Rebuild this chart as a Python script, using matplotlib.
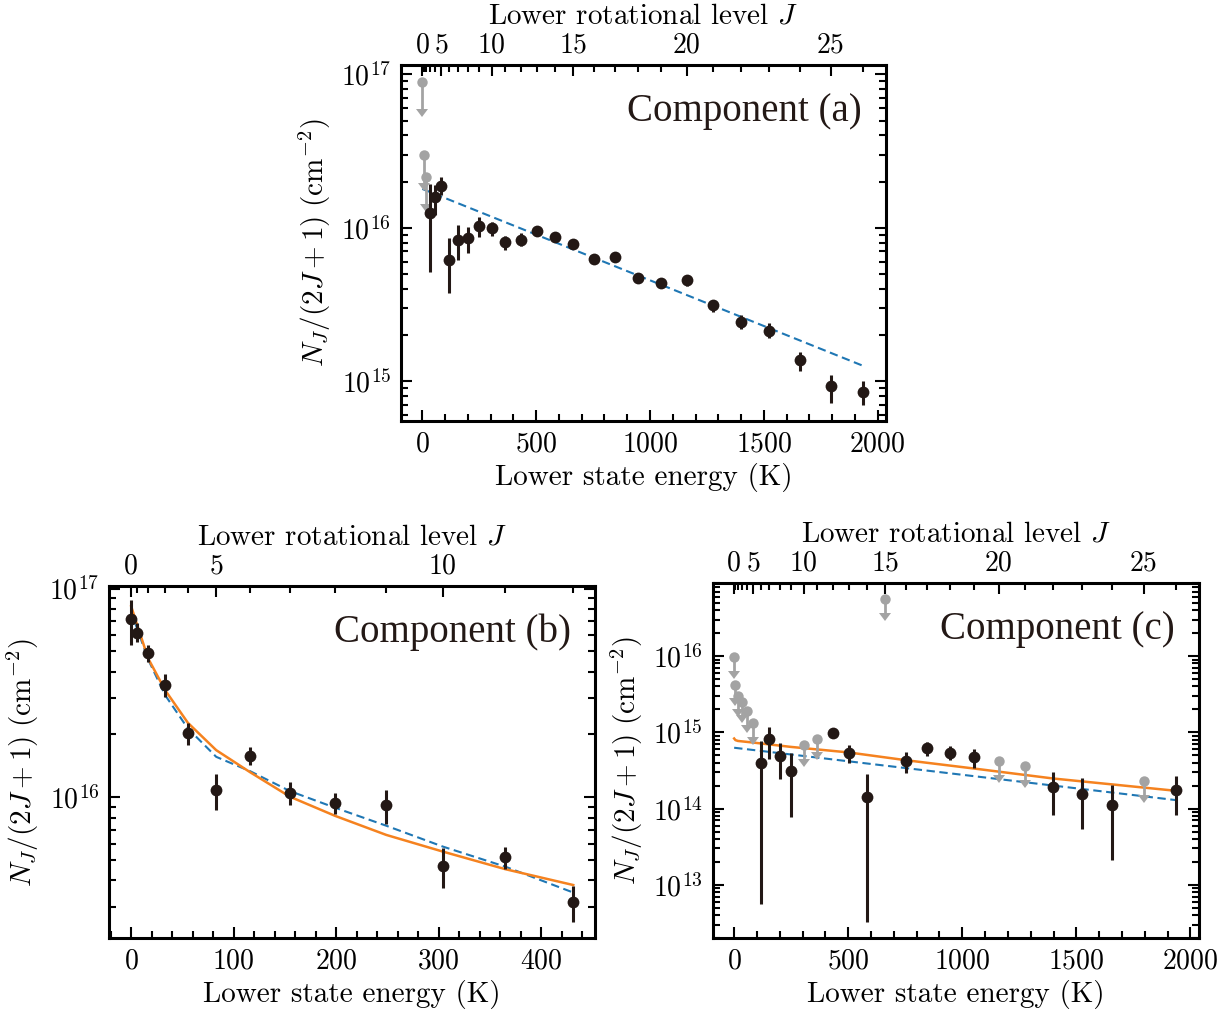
import numpy as np
import matplotlib
matplotlib.use('Agg')
import matplotlib.pyplot as plt
from matplotlib.ticker import MultipleLocator, FixedLocator, NullFormatter, LogLocator

plt.rcParams['font.family'] = 'serif'
plt.rcParams['font.serif'] = ['cmr10', 'DejaVu Serif']
plt.rcParams['mathtext.fontset'] = 'cm'
plt.rcParams['axes.formatter.use_mathtext'] = True
plt.rcParams['axes.unicode_minus'] = False

# lower state energy (K) of CO level J = 0..26
energy_K = [0.0, 5.53, 16.60, 33.19, 55.32, 82.97, 116.16, 154.87, 199.11, 248.88,
            304.16, 364.97, 431.29, 503.13, 580.49, 663.35, 751.72, 845.59, 944.97,
            1049.84, 1160.20, 1276.05, 1397.38, 1524.19, 1656.47, 1794.23, 1937.44]

# ---- component (a), values as log10 N_J/(2J+1)
J_a_lim = [0, 1, 2]
logN_a_lim = [16.952, 16.474, 16.333]
J_a = list(range(3, 27))
logN_a = [16.094, 16.198, 16.274, 15.789, 15.920, 15.931, 16.013, 16.000, 15.905, 15.920,
          15.977, 15.941, 15.896, 15.794, 15.807, 15.674, 15.637, 15.657, 15.494, 15.387,
          15.326, 15.135, 14.967, 14.930]
lo_a = [15.711, 16.083, 16.213, 15.572, 15.789, 15.837, 15.941, 15.948, 15.855, 15.881,
        15.952, 15.916, 15.871, 15.769, 15.782, 15.649, 15.612, 15.620, 15.452, 15.337,
        15.279, 15.067, 14.856, 14.843]
hi_a = [16.285, 16.279, 16.333, 15.931, 16.018, 16.003, 16.072, 16.039, 15.948, 15.963,
        16.002, 15.966, 15.921, 15.819, 15.832, 15.699, 15.662, 15.685, 15.517, 15.430,
        15.376, 15.191, 15.039, 15.002]
fit_a_J = [0, 26]
fit_a_blue = [16.253, 15.098]

# ---- component (b)
J_b = list(range(0, 13))
logN_b = [16.853, 16.789, 16.692, 16.539, 16.309, 16.035, 16.199, 16.022, 15.973, 15.963,
          15.673, 15.713, 15.499]
lo_b = [16.729, 16.745, 16.649, 16.481, 16.250, 15.939, 16.155, 15.963, 15.919, 15.871,
        15.565, 15.656, 15.405]
hi_b = [16.947, 16.833, 16.729, 16.590, 16.357, 16.110, 16.242, 16.072, 16.019, 16.035,
        15.756, 15.764, 15.576]
fit_b_orange = [16.915, 16.831, 16.665, 16.513, 16.357, 16.226, 16.120, 16.003, 15.911,
                15.820, 15.740, 15.656, 15.580]
fit_b_blue = [16.890, 16.812, 16.660, 16.489, 16.330, 16.194, 16.125, 16.030, 15.950,
              15.864, 15.764, 15.668, 15.544]

# ---- component (c)
J_c_lim = [0, 1, 2, 3, 4, 5, 10, 11, 15, 20, 21, 25]
logN_c_lim = [15.983, 15.626, 15.481, 15.402, 15.280, 15.123, 14.829, 14.919, 16.751,
              14.626, 14.556, 14.356]
J_c = [6, 7, 8, 9, 12, 13, 14, 16, 17, 18, 19, 22, 23, 24, 26]
logN_c = [14.599, 14.910, 14.691, 14.495, 14.992, 14.730, 14.154, 14.626, 14.796, 14.735,
          14.678, 14.285, 14.186, 14.042, 14.242]
lo_c = [12.746, 14.644, 14.382, 13.885, 14.932, 14.599, 12.518, 14.469, 14.691, 14.635,
        14.534, 13.915, 13.728, 13.326, 13.915]
hi_c = [14.887, 15.071, 14.861, 14.730, 15.037, 14.831, 14.448, 14.743, 14.874, 14.818,
        14.788, 14.482, 14.395, 14.308, 14.425]
fit_c_orange_J = [0, 1, 2, 5, 9, 13, 16, 19, 22, 26]
fit_c_orange = [14.919, 14.898, 14.887, 14.866, 14.809, 14.736, 14.635, 14.526, 14.395, 14.233]
fit_c_blue_J = [0, 26]
fit_c_blue = [14.798, 14.111]

BLACK = '#231815'
GRAY = '#a3a3a3'
ORANGE = '#f5821f'
BLUE = '#1f77b4'
LIM_FRAC = 0.66  # arrow tip of an upper limit, as a fraction of the value

FS_TICK = 20
FS_LABEL = 21


def E(js):
    return np.array([energy_K[j] for j in js])


def draw(ax, title, xlim, ylim, xmaj, xmin, jmaj, jmax,
         pts, lims=None, orange=None, blue=None):
    ax.set_yscale('log')
    if blue is not None:
        ax.plot(E(blue[0]), 10 ** np.array(blue[1]), color=BLUE, lw=1.5,
                ls=(0, (4, 2.2)), zorder=2)
    if orange is not None:
        ax.plot(E(orange[0]), 10 ** np.array(orange[1]), color=ORANGE, lw=1.8, zorder=2)
    if lims is not None:
        y = 10 ** np.array(lims[1])
        ax.errorbar(E(lims[0]), y, yerr=[y * (1 - LIM_FRAC), np.zeros_like(y)],
                    uplims=True, fmt='o', color=GRAY, ms=7.5, mew=0, elinewidth=2,
                    capsize=4, zorder=3)
    js, v, lo, hi = pts
    y = 10 ** np.array(v)
    ax.errorbar(E(js), y, yerr=[y - 10 ** np.array(lo), 10 ** np.array(hi) - y],
                fmt='o', color=BLACK, ms=8.5, mew=0, elinewidth=2.2, capsize=0, zorder=4)

    ax.set_xlim(*xlim)
    ax.set_ylim(10 ** ylim[0], 10 ** ylim[1])
    ax.xaxis.set_major_locator(MultipleLocator(xmaj))
    ax.xaxis.set_minor_locator(MultipleLocator(xmin))
    ax.yaxis.set_major_locator(LogLocator(base=10, numticks=30))
    ax.yaxis.set_minor_locator(LogLocator(base=10, subs=np.arange(2, 10), numticks=30))
    ax.yaxis.set_minor_formatter(NullFormatter())
    ax.tick_params(which='both', direction='in', right=True, labelsize=FS_TICK,
                   width=1.5, pad=7)
    ax.tick_params(which='major', length=8)
    ax.tick_params(which='minor', length=5)
    for s in ax.spines.values():
        s.set_linewidth(2.2)
    ax.set_xlabel('Lower state energy (K)', fontsize=FS_LABEL, labelpad=4)
    ax.set_ylabel(r'$N_J/(2J+1)\ (\mathrm{cm}^{-2})$', fontsize=FS_LABEL, labelpad=6)

    top = ax.twiny()
    top.set_xlim(ax.get_xlim())
    top.xaxis.set_major_locator(FixedLocator(E(jmaj)))
    top.xaxis.set_minor_locator(FixedLocator(E(range(jmax + 1))))
    top.set_xticklabels([str(j) for j in jmaj])
    top.tick_params(which='both', direction='in', labelsize=FS_TICK, width=1.5, pad=5)
    top.tick_params(which='major', length=8)
    top.tick_params(which='minor', length=5)
    top.set_xlabel(r'Lower rotational level $J$', fontsize=FS_LABEL, labelpad=6)

    ax.text(0.95, 0.87, title, transform=ax.transAxes, ha='right', va='center',
            fontsize=28, family='Liberation Serif', color=BLACK, zorder=5)


fig = plt.figure(figsize=(12.25, 10.15), dpi=100)
ax_a = fig.add_axes([0.3273, 0.5852, 0.3959, 0.3507])
ax_b = fig.add_axes([0.0890, 0.0756, 0.3967, 0.3468])
ax_c = fig.add_axes([0.5818, 0.0756, 0.3967, 0.3498])

draw(ax_a, 'Component (a)', (-94, 2036), (14.739, 17.061), 500, 100,
     [0, 5, 10, 15, 20, 25], 26,
     (J_a, logN_a, lo_a, hi_a), lims=(J_a_lim, logN_a_lim),
     blue=(fit_a_J, fit_a_blue))

draw(ax_b, 'Component (b)', (-21.6, 452.5), (15.325, 17.011), 100, 20,
     [0, 5, 10], 12,
     (J_b, logN_b, lo_b, hi_b),
     orange=(J_b, fit_b_orange), blue=(J_b, fit_b_blue))

draw(ax_c, 'Component (c)', (-94, 2036), (12.30, 16.955), 500, 100,
     [0, 5, 10, 15, 20, 25], 26,
     (J_c, logN_c, lo_c, hi_c), lims=(J_c_lim, logN_c_lim),
     orange=(fit_c_orange_J, fit_c_orange), blue=(fit_c_blue_J, fit_c_blue))

fig.savefig('out.png', dpi=100)
